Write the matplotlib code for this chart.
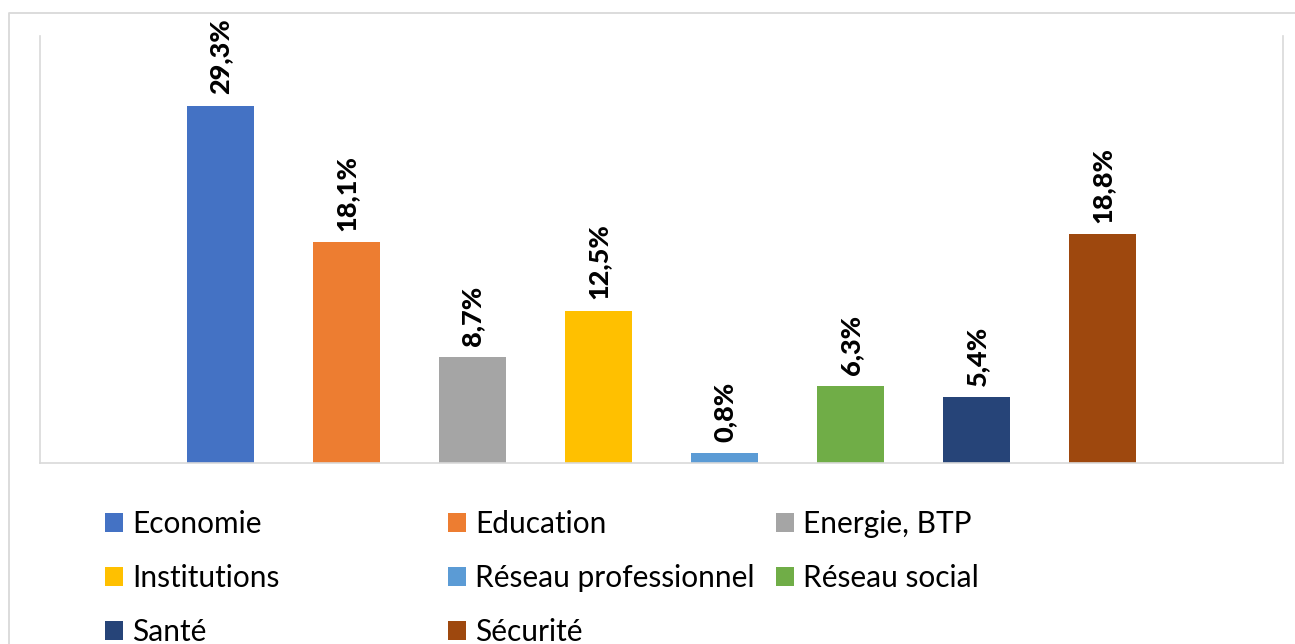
import numpy as np
from matplotlib import pyplot as plt
from matplotlib.patches import Patch
from matplotlib.lines import Line2D

plt.rcParams['font.family'] = ['Lato', 'DejaVu Sans']

categories = ["Economie", "Education", "Energie, BTP", "Institutions",
              "Réseau professionnel", "Réseau social", "Santé", "Sécurité"]
values = [29.3, 18.1, 8.7, 12.5, 0.8, 6.3, 5.4, 18.8]
colors = ["#4472C4", "#ED7D31", "#A5A5A5", "#FFC000",
          "#5B9BD5", "#70AD47", "#264478", "#9E480E"]

fig = plt.figure(figsize=(12.95, 6.44), dpi=100)
ax = fig.add_axes([40/1295, 1-463/644, (1283-40)/1295, (463-36)/644])

x = np.arange(len(categories))
bars = ax.bar(x, values, width=0.53, color=colors)

for xi, v in zip(x, values):
    ax.annotate(("%.1f" % v).replace(".", ",") + "%", (xi, v),
                xytext=(0, 8), textcoords="offset points",
                rotation=90, ha="center", va="bottom",
                fontsize=19.5, fontweight="black", color="black")

ax.set_xlim(-1.43, 8.43)
ax.set_ylim(0, 35)
ax.set_xticks([])
ax.set_yticks([])
ax.spines["top"].set_visible(False)
for s in ["left", "right", "bottom"]:
    ax.spines[s].set_color("#D9D9D9")
    ax.spines[s].set_linewidth(1.2)

# legend, three columns placed like the original
handles = [Patch(facecolor=c, edgecolor="none") for c in colors]
columns = [[0, 3, 6], [1, 4, 7], [2, 5]]
col_x = [105, 448, 776]
for cx, idx in zip(col_x, columns):
    leg = fig.legend([handles[i] for i in idx], [categories[i] for i in idx],
                     loc="upper left", bbox_to_anchor=(cx/1295, 1-510/644),
                     frameon=False, fontsize=21.5, handlelength=0.6,
                     handleheight=0.6, handletextpad=0.3, labelspacing=0.87,
                     borderaxespad=0, borderpad=0)

# outer chart frame (only left and top edge visible)
fig.add_artist(Line2D([9/1295, 9/1295, 1.0], [0.0, 1-13/644, 1-13/644],
                      transform=fig.transFigure, color="#D9D9D9", lw=1.3))

plt.savefig("out.png", dpi=100)
